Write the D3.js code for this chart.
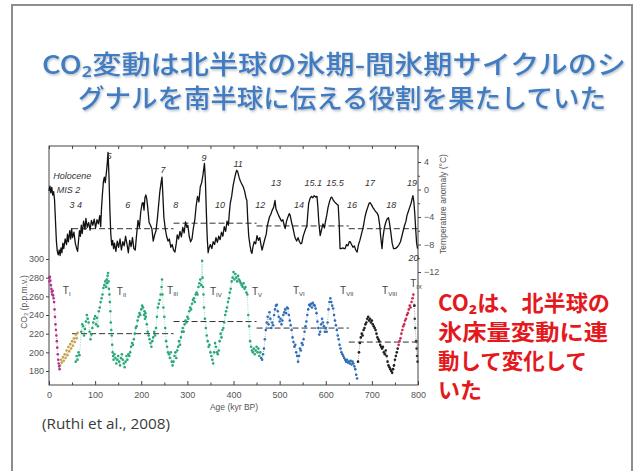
<!DOCTYPE html>
<html>
<head>
<meta charset="utf-8">
<script src="https://cdn.jsdelivr.net/npm/d3@7"></script>
<style>
  html, body { margin: 0; padding: 0; background: #fff; }
  svg { display: block; }
  .ax text { font-family: "Liberation Sans", Arial, sans-serif; font-size: 9px; fill: #555; }
  .ax path, .ax line { stroke: #444; }
</style>
</head>
<body>
<svg id="chart" width="638" height="471"></svg>
<script>
// ---- data (Lüthi et al. 2008, EPICA Dome C) ----
// temperature anomaly [age kyr BP, °C]
const tempRecord = [
  [0,-0.2],[2,0.5],[4,-0.5],[6,0.3],[8,-0.8],[10,-0.3],[12,-1.5],[14,-4.5],[16,-7.5],[18,-9],
  [20,-9.5],[22,-8.8],[24,-9.6],[26,-8.5],[28,-9.2],[30,-7.8],[32,-8.6],[35,-7.2],[38,-8],[40,-6.5],
  [42,-7.6],[45,-6],[47,-7.2],[49,-5.7],[51,-7],[54,-6.2],[57,-7.8],[60,-8.6],[62,-9.0],[64,-7.5],
  [66,-6],[68,-6.8],[70,-5.2],[72,-6.4],[75,-4.6],[78,-5.8],[80,-4.2],[83,-5.5],[86,-4.8],[89,-5.9],
  [92,-4.5],[95,-5.2],[98,-4.3],[101,-5.6],[104,-4.4],[107,-5],[110,-3.8],[112,-5.4],[114,-2.5],[116,-0.5],
  [118,1.2],[120,1.8],[122,1.0],[124,2.2],[126,3.5],[128,5.4],[130,2],[132,-3],[134,-6.5],[136,-8.1],
  [138,-7.4],[140,-8.6],[142,-7.8],[145,-9],[148,-7.5],[151,-8.4],[154,-7.2],[157,-8.8],[160,-7.6],[163,-8.2],
  [166,-6.8],[169,-7.9],[172,-9.2],[175,-7.4],[178,-8.3],[181,-7],[184,-8.6],[187,-8.8],[190,-6.5],[193,-4.5],
  [196,-5.5],[199,-3.2],[202,-2],[204,-1.9],[206,-3],[208,-1.2],[210,-0.8],[212,-1.4],[214,-2.6],[217,-4.8],
  [220,-5.2],[223,-5.7],[226,-7.5],[229,-6.6],[232,-6],[235,-4.2],[238,-2],[240,-0.5],[243,1.0],[245,1.8],
  [247,-1],[249,-4],[252,-5.7],[255,-6.8],[258,-7.5],[261,-7.2],[264,-8.4],[267,-8.0],[270,-8.8],[273,-9.1],
  [276,-7.8],[278,-6.6],[281,-7.2],[284,-6.1],[287,-6.9],[290,-5.5],[293,-6.3],[296,-4.7],[299,-5.5],[301,-5.2],
  [304,-6.8],[307,-7.6],[310,-7.2],[313,-5.6],[316,-4.5],[319,-2.4],[322,-1.0],[325,-1.8],[328,0.4],[331,1.0],
  [334,2.2],[337,3.8],[339,1.5],[341,-3],[343,-7],[345,-9.2],[347,-8.5],[350,-8.0],[353,-8.6],[356,-7.6],
  [359,-8.0],[362,-7.0],[365,-7.7],[368,-6.8],[371,-7.3],[374,-6.2],[377,-6.8],[380,-5.4],[383,-6.1],[386,-4.6],
  [389,-5.2],[391,-3.4],[393,-2.0],[396,-1.0],[399,0.5],[402,1.5],[405,2.4],[407,2.8],[409,2.6],[412,1.8],
  [415,1.2],[418,0.8],[421,0.4],[424,-0.2],[427,-1.2],[429,-1.6],[431,-4.5],[433,-6.8],[436,-8.2],[438,-9.0],
  [440,-9.3],[442,-8.4],[445,-7.6],[448,-7.9],[451,-6.7],[454,-7.4],[457,-7.0],[460,-8.2],[462,-8.8],[465,-8.0],
  [468,-7.2],[471,-6.5],[473,-5.4],[475,-4.8],[478,-4.0],[481,-3.6],[484,-3.0],[487,-2.6],[490,-1.6],[492,-2.8],
  [495,-3.3],[498,-3.8],[501,-4.2],[504,-4.6],[507,-4.4],[510,-5.2],[512,-5.7],[515,-4.6],[518,-4.0],[521,-3.5],
  [523,-3.8],[526,-4.8],[529,-5.6],[532,-6.6],[534,-7.1],[537,-7.5],[540,-7.0],[543,-7.6],[546,-7.9],[548,-7.8],
  [551,-6.8],[554,-6.2],[557,-5.6],[559,-5.4],[561,-3.6],[563,-2.0],[566,-1.3],[569,-1.0],[572,-1.2],[575,-0.9],
  [578,-1.1],[581,-1.0],[583,-2.6],[585,-4.8],[588,-6.7],[591,-5.8],[594,-5.0],[597,-5.6],[599,-4.8],[602,-3.8],
  [605,-2.6],[608,-1.8],[611,-1.2],[613,-1.1],[616,-1.5],[619,-1.8],[622,-2.0],[625,-2.2],[627,-2.3],[629,-4.8],
  [631,-8.6],[634,-8.6],[637,-8.5],[640,-8.6],[642,-8.6],[645,-8.0],[648,-8.2],[651,-7.6],[653,-7.6],[656,-8.0],
  [659,-8.4],[662,-8.2],[665,-8.8],[668,-9.1],[671,-8.0],[674,-7.4],[677,-6.6],[680,-5.8],[682,-5.2],[685,-4.0],
  [688,-3.2],[691,-2.6],[694,-2.0],[696,-1.9],[699,-2.2],[702,-2.6],[705,-2.9],[708,-3.2],[711,-3.4],[714,-3.8],
  [717,-5.2],[719,-6.8],[722,-8.6],[724,-7.0],[727,-5.6],[730,-4.8],[733,-4.3],[736,-4.1],[738,-4.8],[741,-6.2],
  [744,-7.8],[747,-8.6],[750,-8.6],[753,-8.5],[756,-8.3],[759,-8.0],[762,-7.6],[765,-6.8],[768,-6.0],[771,-5.2],
  [774,-4.6],[776,-3.8],[779,-3.2],[782,-2.6],[785,-2.0],[787,-1.4],[789,-0.9],[791,-1.8],[793,-3.5],[795,-5.8],
  [797,-7.8],[799,-8.6]
];

// CO2 [age kyr BP, ppmv], one list per record / colour in the original
const co2DomeCLate = [
  [0.5,280],[1,276],[2,281],[3,277],[4,272],[5,268],[6,265],[7,262],[8,266],[9,261],[10,258],[11,254],
  [12,246],[13,238],[14,230],[15,224],[16,218],[17,212],[18,205],[19,198],[20,192],[21,188],[22,185],[23,182]
];
const co2Byrd = [
  [24,186],[26,192],[28,189],[30,195],[32,191],[34,198],[36,194],[38,202],[40,197],[42,206],
  [44,201],[46,209],[48,204],[50,212],[52,207],[54,215],[56,211],[58,219],[60,215],[62,221]
];
const co2Vostok = [
  [58,190],[60,196],[62,192],[64,200],[66,197],[70,222],[72,230],[74,228],[76,218],[78,225],
  [80,233],[82,240],[84,236],[86,232],[88,222],[90,214],[92,219],[94,226],[96,232],[98,236],
  [100,239],[102,230],[104,237],[106,228],[108,244],[110,248],[112,254],[114,258],[116,262],[118,269],
  [120,272],[122,276],[124,270],[125,278],[126,274],[127,282],[128,285],[129,276],[130,268],[131,262],
  [132,254],[133,244],[134,232],[135,224],[136,218],[137,208],[138,200],[139,196],[140,192],[142,198],
  [144,194],[146,188],[148,192],[150,196],[152,190],[154,186],[156,194],[158,198],[160,192],[162,188],
  [164,184],[166,190],[168,196],[170,192],[172,198],[174,196],[176,200],[178,206],[180,210],[182,208],
  [184,214],[186,220],[188,226],[190,228],[192,234],[194,238],[196,242],[198,240],[200,246],[202,250],
  [204,248],[206,240],[207,244],[208,236],[209,242],[210,238],[212,230],[214,222],[216,218],[218,214],
  [220,210],[222,206],[224,212],[226,216],[228,222],[230,218],[232,226],[234,238],[236,248],[238,252],
  [240,256],[242,262],[244,270],[245,278],[246,262],[248,248],[250,238],[252,226],[254,212],[256,206],
  [258,200],[260,198],[262,194],[264,200],[266,190],[268,186],[270,190],[272,196],[274,200],[276,194],
  [278,202],[280,206],[282,212],[284,208],[286,216],[288,222],[290,226],[292,222],[294,230],[296,234],
  [298,232],[300,238],[302,236],[304,244],[306,248],[308,246],[310,252],[312,256],[314,258],[316,254],
  [318,262],[320,264],[322,262],[324,270],[326,274],[328,278],[330,272],[332,298],[333,280],[334,270],
  [335,262],[336,248],[338,236],[340,226],[342,218],[344,212],[346,206],[348,208],[350,200],[352,196],
  [354,192],[356,188],[358,200],[360,210],[362,206],[364,200],[366,198],[368,202],[370,212],[372,220],
  [374,216],[376,224],[378,226],[380,232],[382,240],[384,244],[386,248],[388,254],[390,258],[392,264],
  [394,268],[396,276],[398,280],[400,286],[402,278],[404,284],[406,280],[408,276],[410,282],[412,278],
  [414,276],[416,274],[418,272],[420,270],[422,274],[424,268],[426,270],[428,264],[430,262],[432,240],
  [434,228],[436,212],[438,206],[440,202],[442,200],[444,204],[446,198],[448,202],[450,206],[452,200],
  [454,204],[456,196],[458,200]
];
const co2DomeCBern = [
  [460,194],[462,192],[464,198],[466,204],[468,214],[470,224],[472,232],[474,238],[476,230],[478,243],
  [480,236],[482,226],[484,232],[486,229],[488,240],[490,246],[492,250],[494,251],[496,244],[498,238],
  [500,233],[502,236],[504,230],[506,234],[508,240],[510,243],[512,246],[514,242],[516,248],[518,247],
  [520,240],[522,234],[524,229],[526,224],[528,216],[530,211],[532,206],[534,208],[536,200],[538,196],
  [540,190],[542,196],[544,204],[546,202],[548,210],[550,208],[552,214],[554,222],[556,228],[558,233],
  [560,240],[562,246],[564,251],[566,250],[568,252],[570,248],[572,253],[574,251],[576,250],[578,247],
  [580,242],[582,233],[584,226],[586,219],[588,222],[590,230],[592,236],[594,232],[596,228],[598,222],
  [600,226],[602,222],[604,232],[606,246],[608,254],[610,258],[612,254],[614,250],[616,247],[618,240],
  [620,234],[622,229],[624,224],[626,218],[628,214],[630,208],[632,204],[634,200],[636,198],[638,196],
  [640,194],[642,192],[644,190],[646,192],[648,189],[650,190],[652,188],[654,191],[656,187],[658,190],
  [660,188],[662,185],[664,182],[666,176],[668,172]
];
const co2DomeCGrenoble = [
  [670,190],[672,200],[674,210],[676,216],[678,220],[680,218],[682,224],[684,226],[686,230],[688,232],
  [690,236],[692,238],[694,234],[696,236],[698,232],[700,234],[702,230],[704,228],[706,226],[708,224],
  [710,220],[712,216],[714,214],[716,212],[718,208],[720,206],[722,204],[724,206],[726,200],[728,198],
  [730,202],[732,196],[734,190],[736,186],[738,184],[740,182],[742,180],[744,178],[746,182],[748,186],
  [750,192],[752,196],[754,200],[756,204]
];
const co2DomeCNew = [
  [758,208],[760,212],[762,215],[764,220],[766,224],[768,228],[770,230],[772,234],[774,236],[776,240],
  [778,242],[780,246],[782,250],[784,248],[786,254],[788,258],[790,262],[792,250]
];
const co2DomeCEnd = [
  [792,250],[793,236],[794,226],[796,212],[797,204],[798,196],[799,190]
];

// period means (dashed lines): [from kyr, to kyr, value]
const co2Means  = [[50,270,220],[270,450,233],[450,650,226],[650,799,211]];
const tempMeans = [[50,270,-5.7],[270,450,-4.9],[450,650,-5.3],[650,799,-5.7]];

// marine isotope stage labels [text, kyr, °C]
const misLabels = [
  ["Holocene",9,2.0],["MIS 2",17,-0.1],["3 4",58,-2.3],["5",130,4.9],["6",171,-2.3],["7",247,2.9],
  ["8",275,-2.3],["9",336,4.6],["10",371,-2.3],["11",410,3.8],["12",458,-2.3],["13",492,0.9],
  ["14",542,-2.3],["15.1",573,0.9],["15.5",620,0.9],["16",657,-2.3],["17",696,0.9],["18",742,-2.3],
  ["19",787,0.9],["20",790,-9.9]
];
// terminations [numeral, kyr, ppmv]
const terminations = [
  ["I",30,266],["II",147,265],["III",256,266],["IV",349,265],["V",440,265],
  ["VI",529,266],["VII",631,266],["VIII",722,266],["IX",783,274]
];

const ageTicks  = d3.range(0, 801, 100);
const co2Ticks  = [180, 200, 220, 240, 260, 280, 300];
const tempTicks = [-12, -8, -4, 0, 4];

const titleLines = ["CO₂変動は北半球の氷期-間氷期サイクルのシ", "グナルを南半球に伝える役割を果たしていた"];
const noteLines  = ["CO₂は、北半球の", "氷床量変動に連", "動して変化して", "いた"];

// ---- drawing ----
const svg = d3.select('#chart');
const FONT_JP = '"Noto Sans CJK JP", "Noto Sans", sans-serif';

svg.append('rect').attr('width', 638).attr('height', 471).attr('fill', '#fff');

// slide frame
svg.append('path')
  .attr('d', 'M12,471 V5 H632 V471')
  .attr('fill', 'none').attr('stroke', '#8d8d8d').attr('stroke-width', 2);

const defs = svg.append('defs');
defs.append('filter').attr('id', 'shadow')
  .attr('x', '-5%').attr('y', '-20%').attr('width', '110%').attr('height', '140%')
  .append('feDropShadow')
  .attr('dx', 1).attr('dy', 1.5).attr('stdDeviation', 0.8)
  .attr('flood-color', '#9aa4b0').attr('flood-opacity', 0.7);

// title
const title = svg.append('g')
  .attr('font-family', FONT_JP).attr('font-size', 26).attr('font-weight', 500)
  .attr('fill', '#3f7cc2').attr('filter', 'url(#shadow)');
const titleX = [[42, 626], [78, 606]];
titleLines.forEach((line, i) => {
  title.append('text').attr('x', titleX[i][0]).attr('y', 74 + i * 34)
    .attr('textLength', titleX[i][1] - titleX[i][0]).attr('lengthAdjust', 'spacingAndGlyphs')
    .text(line);
});

// scales
const x = d3.scaleLinear().domain([0, 800]).range([49, 418]);
const yCO2 = d3.scaleLinear().domain([180, 300]).range([371, 259]);
const yT = d3.scaleLinear().domain([-12, 4]).range([272, 162]);
const TOP = 146, BOTTOM = 385;

const plot = svg.append('g');

// box spines
plot.append('rect')
  .attr('x', x(0)).attr('y', TOP).attr('width', x(800) - x(0)).attr('height', BOTTOM - TOP)
  .attr('fill', 'none').attr('stroke', '#444').attr('stroke-width', 1);

// bottom axis (ticks inward)
const gx = plot.append('g').attr('class', 'ax').attr('transform', `translate(0,${BOTTOM})`)
  .call(d3.axisBottom(x).tickValues(ageTicks).tickSizeInner(-4).tickSizeOuter(0).tickPadding(7));
gx.select('.domain').remove();
plot.append('g').attr('class', 'ax').attr('transform', `translate(0,${BOTTOM})`)
  .call(d3.axisBottom(x).tickValues(d3.range(50, 800, 100)).tickSize(-2.5).tickFormat(''))
  .select('.domain').remove();

// top ticks
plot.append('g').attr('class', 'ax').attr('transform', `translate(0,${TOP})`)
  .call(d3.axisTop(x).tickValues(d3.range(0, 801, 50)).tickSize(-3).tickFormat(''))
  .select('.domain').remove();

// left CO2 axis
const gl = plot.append('g').attr('class', 'ax').attr('transform', `translate(${x(0)},0)`)
  .call(d3.axisLeft(yCO2).tickValues(co2Ticks).tickSize(3).tickPadding(2));
gl.select('.domain').remove();

// right temperature axis
const gr = plot.append('g').attr('class', 'ax').attr('transform', `translate(${x(800)},0)`)
  .call(d3.axisRight(yT).tickValues(tempTicks).tickSize(3).tickPadding(3));
gr.select('.domain').remove();
plot.append('g').attr('class', 'ax').attr('transform', `translate(${x(800)},0)`)
  .call(d3.axisRight(yT).tickValues([-10, -6, -2, 2]).tickSize(2).tickFormat(''))
  .select('.domain').remove();

// axis titles
const axTitle = plot.append('g')
  .attr('font-family', '"Liberation Sans", Arial, sans-serif').attr('font-size', 8.5).attr('fill', '#555');
axTitle.append('text')
  .attr('transform', 'translate(27,302) rotate(-90)').attr('text-anchor', 'middle')
  .text('CO₂ (p.p.m.v.)');
axTitle.append('text')
  .attr('transform', 'translate(446,204) rotate(-90)').attr('text-anchor', 'middle')
  .text('Temperature anomaly (°C)');
axTitle.append('text').attr('x', 234).attr('y', 410).attr('text-anchor', 'middle')
  .text('Age (kyr BP)');

// dashed means
const dash = plot.append('g').attr('stroke', '#333').attr('stroke-width', 1)
  .attr('stroke-dasharray', '6,3').attr('fill', 'none');
dash.selectAll('.cm').data(co2Means).join('line')
  .attr('x1', d => x(d[0])).attr('x2', d => x(d[1]))
  .attr('y1', d => yCO2(d[2])).attr('y2', d => yCO2(d[2]));
dash.selectAll('.tm').data(tempMeans).join('line')
  .attr('x1', d => x(d[0])).attr('x2', d => x(d[1]))
  .attr('y1', d => yT(d[2])).attr('y2', d => yT(d[2]));

// temperature record
plot.append('path')
  .datum(tempRecord)
  .attr('fill', 'none').attr('stroke', '#111').attr('stroke-width', 1.3).attr('stroke-linejoin', 'round')
  .attr('d', d3.line().x(d => x(d[0])).y(d => yT(d[1])));

// CO2 records
const co2Series = [
  { data: co2Vostok,        color: '#27a776' },
  { data: co2DomeCBern,     color: '#2f6db6' },
  { data: co2DomeCGrenoble, color: '#1e1e1e' },
  { data: co2DomeCNew,      color: '#c72a4e' },
  { data: co2DomeCEnd,      color: '#333' },
  { data: co2Byrd,          color: '#c4a24e' },
  { data: co2DomeCLate,     color: '#b0308f' }
];
const co2Line = d3.line().x(d => x(d[0])).y(d => yCO2(d[1]));
co2Series.forEach(s => {
  const g = plot.append('g');
  g.append('path').datum(s.data)
    .attr('fill', 'none').attr('stroke', s.color).attr('stroke-width', 0.6)
    .attr('stroke-dasharray', '1,1.5').attr('opacity', 0.8)
    .attr('d', co2Line);
  g.selectAll('circle').data(s.data).join('circle')
    .attr('cx', d => x(d[0])).attr('cy', d => yCO2(d[1]))
    .attr('r', 1.3).attr('fill', s.color);
});

// MIS labels
plot.append('g')
  .attr('font-family', '"Liberation Sans", Arial, sans-serif').attr('font-size', 9)
  .attr('font-style', 'italic').attr('fill', '#333')
  .selectAll('text').data(misLabels).join('text')
  .attr('x', d => x(d[1])).attr('y', d => yT(d[2])).attr('dy', '0.35em')
  .attr('text-anchor', (d, i) => i < 2 ? 'start' : 'middle')
  .text(d => d[0]);

// termination labels
const term = plot.append('g')
  .attr('font-family', '"Liberation Sans", Arial, sans-serif').attr('font-size', 10).attr('fill', '#444')
  .selectAll('text').data(terminations).join('text')
  .attr('x', d => x(d[1])).attr('y', d => yCO2(d[2])).attr('dy', '0.35em');
term.append('tspan').text('T');
term.append('tspan').attr('font-size', 6).attr('dy', 2).text(d => d[0]);

// red note
const note = svg.append('g')
  .attr('font-family', FONT_JP).attr('font-size', 22).attr('font-weight', 700).attr('fill', '#e3191e');
const noteEnds = [610, 608, 587, 482];
noteLines.forEach((line, i) => {
  note.append('text').attr('x', 438).attr('y', 311 + i * 29)
    .attr('textLength', noteEnds[i] - 438).attr('lengthAdjust', 'spacingAndGlyphs')
    .text(line);
});

// citation
svg.append('text')
  .attr('x', 42).attr('y', 429)
  .attr('font-family', '"Open Sans", "Noto Sans", sans-serif').attr('font-size', 15).attr('fill', '#3a3a3a')
  .attr('textLength', 128).attr('lengthAdjust', 'spacingAndGlyphs')
  .text('(Ruthi  et al., 2008)');
</script>
</body>
</html>
